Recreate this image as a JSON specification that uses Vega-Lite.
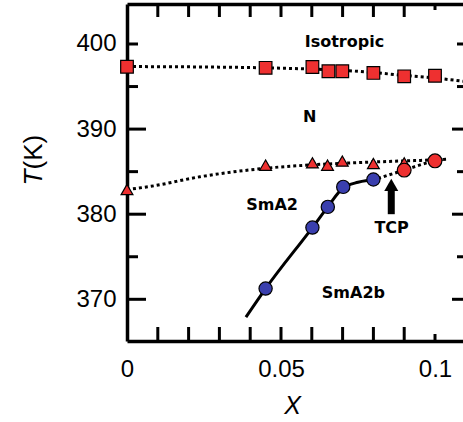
{
  "$schema": "https://vega.github.io/schema/vega-lite/v6.json",
  "width": 336,
  "height": 337,
  "autosize": {"type": "none"},
  "padding": {"left": 127, "top": 4, "right": 0, "bottom": 81},
  "background": "white",
  "config": {
    "view": {"stroke": null},
    "axis": {
      "grid": false,
      "domainColor": "black",
      "labelColor": "black",
      "titleColor": "black",
      "labelFont": "Liberation Sans",
      "titleFont": "Liberation Sans",
      "titleFontWeight": "normal",
      "domainWidth": 3.5,
      "labelFontSize": 24,
      "labelFlush": false,
      "labelOverlap": false,
      "labelBound": false
    }
  },
  "datasets": {
    "xticks": [{"x": 0.01}, {"x": 0.02}, {"x": 0.03}, {"x": 0.04}, {"x": 0.05}, {"x": 0.06}, {"x": 0.07}, {"x": 0.08}, {"x": 0.09}],
    "xtickEnd": [{"x": 0.1}],
    "yticksMajor": [{"T": 370}, {"T": 380}, {"T": 390}],
    "yticksMinor": [{"T": 375}, {"T": 385}, {"T": 395}, {"T": 400}],
    "lineNI": [
      {"x": 0, "T": 397.35}, {"x": 0.03, "T": 397.28}, {"x": 0.045, "T": 397.2},
      {"x": 0.06, "T": 397.05}, {"x": 0.07, "T": 396.9}, {"x": 0.08, "T": 396.65},
      {"x": 0.09, "T": 396.3}, {"x": 0.1, "T": 396.0}, {"x": 0.1091, "T": 395.62}
    ],
    "lineNS": [
      {"x": 0, "T": 382.9}, {"x": 0.0073, "T": 383.25}, {"x": 0.0237, "T": 384.4},
      {"x": 0.045, "T": 385.4}, {"x": 0.06, "T": 385.8}, {"x": 0.0745, "T": 386.05},
      {"x": 0.085, "T": 386.2}, {"x": 0.095, "T": 386.32}, {"x": 0.104, "T": 386.45}
    ],
    "lineTCP": [
      {"x": 0.0815, "T": 384.2}, {"x": 0.09, "T": 385.18}, {"x": 0.1, "T": 386.27}, {"x": 0.1025, "T": 386.42}
    ],
    "solid": [
      {"x": 0.0386, "T": 367.9}, {"x": 0.045, "T": 371.26}, {"x": 0.0602, "T": 378.43},
      {"x": 0.0652, "T": 380.86}, {"x": 0.0702, "T": 383.1}, {"x": 0.075, "T": 383.75},
      {"x": 0.08, "T": 384.08}, {"x": 0.0815, "T": 384.2}
    ],
    "squares": [
      {"x": 0, "T": 397.33}, {"x": 0.045, "T": 397.2}, {"x": 0.0602, "T": 397.3},
      {"x": 0.0654, "T": 396.8}, {"x": 0.0699, "T": 396.8}, {"x": 0.08, "T": 396.6},
      {"x": 0.09, "T": 396.2}, {"x": 0.1, "T": 396.27}
    ],
    "triangles": [
      {"x": 0, "T": 382.9}, {"x": 0.045, "T": 385.76}, {"x": 0.0602, "T": 386.04},
      {"x": 0.0651, "T": 385.76}, {"x": 0.0699, "T": 386.24}, {"x": 0.08, "T": 385.96},
      {"x": 0.09, "T": 386.04}
    ],
    "redcircles": [
      {"x": 0.09, "T": 385.18}, {"x": 0.1, "T": 386.27}
    ],
    "bluecircles": [
      {"x": 0.045, "T": 371.26}, {"x": 0.0602, "T": 378.43}, {"x": 0.0652, "T": 380.86},
      {"x": 0.0702, "T": 383.21}, {"x": 0.08, "T": 384.08}
    ],
    "arrow": [
      {"x": 0.0858, "T": 380.0, "T2": 383.2, "head": 383.45}
    ],
    "labels": [
      {"x": 0.0706, "T": 400.27, "label": "Isotropic"},
      {"x": 0.0593, "T": 391.45, "label": "N"},
      {"x": 0.0471, "T": 381.06, "label": "SmA2"},
      {"x": 0.0735, "T": 370.74, "label": "SmA2b"},
      {"x": 0.0859, "T": 378.41, "label": "TCP"}
    ]
  },
  "layer": [
    {
      "data": {"name": "lineNI"},
      "mark": {"type": "line", "color": "black", "strokeWidth": 3, "strokeDash": [3, 3], "interpolate": "monotone"},
      "encoding": {
        "x": {"field": "x", "type": "quantitative", "scale": {"domain": [0, 0.10909], "nice": false, "zero": false},
          "axis": {"orient": "bottom", "values": [0, 0.05, 0.1], "format": ".2~f", "ticks": false, "tickSize": 0, "labelPadding": 16, "domain": true,
            "title": "X", "titleFontStyle": "italic", "titleFontSize": 25, "titleX": 165, "titleY": 72, "titleBaseline": "alphabetic", "titleAlign": "center"}},
        "y": {"field": "T", "type": "quantitative", "scale": {"domain": [365.1, 404.7], "nice": false, "zero": false},
          "axis": {"orient": "left", "values": [370, 380, 390, 400], "format": "d", "ticks": false, "tickSize": 0, "labelPadding": 11, "domain": true,
            "title": "T", "titleFontStyle": "italic", "titleFontSize": 26, "titleX": -86, "titleY": 181, "titleAlign": "left", "titleBaseline": "alphabetic", "titleAngle": 270}}
      }
    },
    {
      "data": {"name": "lineNS"},
      "mark": {"type": "line", "color": "black", "strokeWidth": 3, "strokeDash": [3, 3], "interpolate": "monotone"},
      "encoding": {
        "x": {"field": "x", "type": "quantitative", "scale": {"domain": [0, 0.10909], "nice": false, "zero": false},
          "axis": {"orient": "top", "values": [0], "ticks": false, "tickSize": 0, "labels": false, "domain": true, "title": null}},
        "y": {"field": "T", "type": "quantitative", "scale": {"domain": [365.1, 404.7], "nice": false, "zero": false},
          "axis": {"orient": "left", "values": [390], "ticks": false, "tickSize": 0, "labels": false, "domain": false,
            "title": "(K)", "titleFontSize": 26, "titleX": -86, "titleY": 165, "titleAlign": "left", "titleBaseline": "alphabetic", "titleAngle": 270}}
      }
    },
    {
      "data": {"name": "lineTCP"},
      "mark": {"type": "line", "color": "black", "strokeWidth": 3, "strokeDash": [3, 3], "interpolate": "monotone"},
      "encoding": {
        "x": {"field": "x", "type": "quantitative", "scale": {"domain": [0, 0.10909], "nice": false, "zero": false}, "axis": null},
        "y": {"field": "T", "type": "quantitative", "scale": {"domain": [365.1, 404.7], "nice": false, "zero": false}, "axis": null}
      }
    },
    {
      "data": {"name": "solid"},
      "mark": {"type": "line", "color": "black", "strokeWidth": 3, "interpolate": "monotone"},
      "encoding": {
        "x": {"field": "x", "type": "quantitative", "scale": {"domain": [0, 0.10909], "nice": false, "zero": false}, "axis": null},
        "y": {"field": "T", "type": "quantitative", "scale": {"domain": [365.1, 404.7], "nice": false, "zero": false}, "axis": null}
      }
    },
    {
      "data": {"name": "xticks"},
      "mark": {"type": "rule", "color": "black", "strokeWidth": 3, "strokeCap": "butt", "y2Offset": -14},
      "encoding": {
        "x": {"field": "x", "type": "quantitative", "scale": {"domain": [0, 0.10909], "nice": false, "zero": false}, "axis": null},
        "y": {"datum": 365.1, "type": "quantitative", "scale": {"domain": [365.1, 404.7], "nice": false, "zero": false}, "axis": null},
        "y2": {"datum": 365.1}
      }
    },
    {
      "data": {"name": "xticks"},
      "mark": {"type": "rule", "color": "black", "strokeWidth": 3, "strokeCap": "butt", "y2Offset": 13},
      "encoding": {
        "x": {"field": "x", "type": "quantitative", "scale": {"domain": [0, 0.10909], "nice": false, "zero": false}, "axis": null},
        "y": {"datum": 404.7, "type": "quantitative", "scale": {"domain": [365.1, 404.7], "nice": false, "zero": false}, "axis": null},
        "y2": {"datum": 404.7}
      }
    },
    {
      "data": {"name": "xtickEnd"},
      "mark": {"type": "rule", "color": "black", "strokeWidth": 3, "strokeCap": "butt", "y2Offset": -7},
      "encoding": {
        "x": {"field": "x", "type": "quantitative", "scale": {"domain": [0, 0.10909], "nice": false, "zero": false}, "axis": null},
        "y": {"datum": 365.1, "type": "quantitative", "scale": {"domain": [365.1, 404.7], "nice": false, "zero": false}, "axis": null},
        "y2": {"datum": 365.1}
      }
    },
    {
      "data": {"name": "xtickEnd"},
      "mark": {"type": "rule", "color": "black", "strokeWidth": 3, "strokeCap": "butt", "y2Offset": 6},
      "encoding": {
        "x": {"field": "x", "type": "quantitative", "scale": {"domain": [0, 0.10909], "nice": false, "zero": false}, "axis": null},
        "y": {"datum": 404.7, "type": "quantitative", "scale": {"domain": [365.1, 404.7], "nice": false, "zero": false}, "axis": null},
        "y2": {"datum": 404.7}
      }
    },
    {
      "data": {"name": "yticksMajor"},
      "mark": {"type": "rule", "color": "black", "strokeWidth": 3, "strokeCap": "butt", "x2Offset": 19},
      "encoding": {
        "y": {"field": "T", "type": "quantitative", "scale": {"domain": [365.1, 404.7], "nice": false, "zero": false}, "axis": null},
        "x": {"datum": 0, "type": "quantitative", "scale": {"domain": [0, 0.10909], "nice": false, "zero": false}, "axis": null},
        "x2": {"datum": 0}
      }
    },
    {
      "data": {"name": "yticksMinor"},
      "mark": {"type": "rule", "color": "black", "strokeWidth": 3, "strokeCap": "butt", "x2Offset": 11},
      "encoding": {
        "y": {"field": "T", "type": "quantitative", "scale": {"domain": [365.1, 404.7], "nice": false, "zero": false}, "axis": null},
        "x": {"datum": 0, "type": "quantitative", "scale": {"domain": [0, 0.10909], "nice": false, "zero": false}, "axis": null},
        "x2": {"datum": 0}
      }
    },
    {
      "data": {"name": "yticksMajor"},
      "mark": {"type": "rule", "color": "black", "strokeWidth": 3, "strokeCap": "butt", "xOffset": 4, "x2Offset": -11},
      "encoding": {
        "y": {"field": "T", "type": "quantitative", "scale": {"domain": [365.1, 404.7], "nice": false, "zero": false}, "axis": null},
        "x": {"datum": 0.10909, "type": "quantitative", "scale": {"domain": [0, 0.10909], "nice": false, "zero": false}, "axis": null},
        "x2": {"datum": 0.10909}
      }
    },
    {
      "data": {"name": "yticksMinor"},
      "mark": {"type": "rule", "color": "black", "strokeWidth": 3, "strokeCap": "butt", "xOffset": 4, "x2Offset": -6},
      "encoding": {
        "y": {"field": "T", "type": "quantitative", "scale": {"domain": [365.1, 404.7], "nice": false, "zero": false}, "axis": null},
        "x": {"datum": 0.10909, "type": "quantitative", "scale": {"domain": [0, 0.10909], "nice": false, "zero": false}, "axis": null},
        "x2": {"datum": 0.10909}
      }
    },
    {
      "data": {"name": "squares"},
      "mark": {"type": "point", "shape": "square", "size": 160, "filled": true, "fill": "#ee3030", "stroke": "black", "strokeWidth": 1.2, "opacity": 1},
      "encoding": {
        "x": {"field": "x", "type": "quantitative", "scale": {"domain": [0, 0.10909], "nice": false, "zero": false}, "axis": null},
        "y": {"field": "T", "type": "quantitative", "scale": {"domain": [365.1, 404.7], "nice": false, "zero": false}, "axis": null}
      }
    },
    {
      "data": {"name": "triangles"},
      "mark": {"type": "point", "shape": "triangle-up", "size": 140, "filled": true, "fill": "#ee3030", "stroke": "black", "strokeWidth": 1.2, "opacity": 1},
      "encoding": {
        "x": {"field": "x", "type": "quantitative", "scale": {"domain": [0, 0.10909], "nice": false, "zero": false}, "axis": null},
        "y": {"field": "T", "type": "quantitative", "scale": {"domain": [365.1, 404.7], "nice": false, "zero": false}, "axis": null}
      }
    },
    {
      "data": {"name": "redcircles"},
      "mark": {"type": "point", "shape": "circle", "size": 190, "filled": true, "fill": "#ee3030", "stroke": "black", "strokeWidth": 1.2, "opacity": 1},
      "encoding": {
        "x": {"field": "x", "type": "quantitative", "scale": {"domain": [0, 0.10909], "nice": false, "zero": false}, "axis": null},
        "y": {"field": "T", "type": "quantitative", "scale": {"domain": [365.1, 404.7], "nice": false, "zero": false}, "axis": null}
      }
    },
    {
      "data": {"name": "bluecircles"},
      "mark": {"type": "point", "shape": "circle", "size": 175, "filled": true, "fill": "#3a3fae", "stroke": "black", "strokeWidth": 1.2, "opacity": 1},
      "encoding": {
        "x": {"field": "x", "type": "quantitative", "scale": {"domain": [0, 0.10909], "nice": false, "zero": false}, "axis": null},
        "y": {"field": "T", "type": "quantitative", "scale": {"domain": [365.1, 404.7], "nice": false, "zero": false}, "axis": null}
      }
    },
    {
      "data": {"name": "arrow"},
      "mark": {"type": "rule", "color": "black", "strokeWidth": 7},
      "encoding": {
        "x": {"field": "x", "type": "quantitative", "scale": {"domain": [0, 0.10909], "nice": false, "zero": false}, "axis": null},
        "y": {"field": "T", "type": "quantitative", "scale": {"domain": [365.1, 404.7], "nice": false, "zero": false}, "axis": null},
        "y2": {"field": "T2"}
      }
    },
    {
      "data": {"name": "arrow"},
      "mark": {"type": "point", "shape": "triangle-up", "size": 196, "filled": true, "fill": "black", "strokeWidth": 0, "opacity": 1},
      "encoding": {
        "x": {"field": "x", "type": "quantitative", "scale": {"domain": [0, 0.10909], "nice": false, "zero": false}, "axis": null},
        "y": {"field": "head", "type": "quantitative", "scale": {"domain": [365.1, 404.7], "nice": false, "zero": false}, "axis": null}
      }
    },
    {
      "data": {"name": "labels"},
      "mark": {"type": "text", "font": "DejaVu Sans", "fontWeight": "bold", "fontSize": 16, "color": "black", "align": "center", "baseline": "middle"},
      "encoding": {
        "x": {"field": "x", "type": "quantitative", "scale": {"domain": [0, 0.10909], "nice": false, "zero": false}, "axis": null},
        "y": {"field": "T", "type": "quantitative", "scale": {"domain": [365.1, 404.7], "nice": false, "zero": false}, "axis": null},
        "text": {"field": "label"}
      }
    }
  ],
  "resolve": {"axis": {"x": "independent", "y": "independent"}}
}
